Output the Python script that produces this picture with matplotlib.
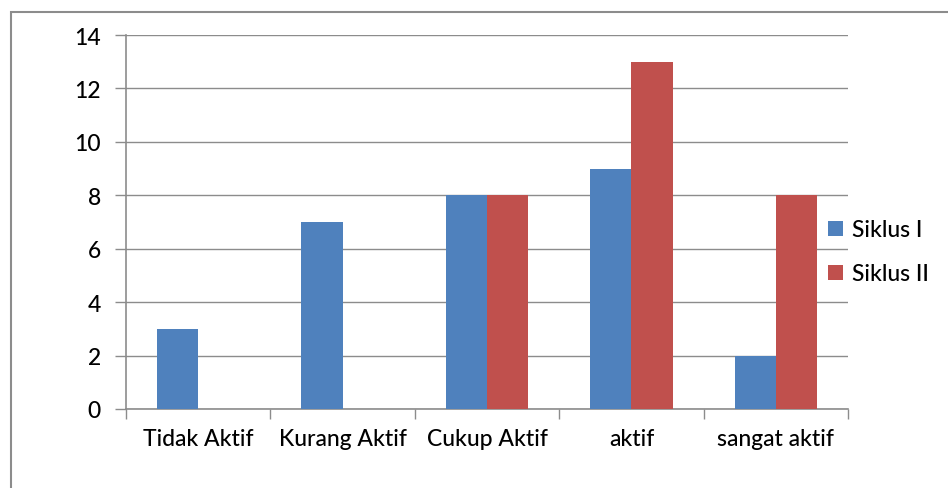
import numpy as np
import matplotlib.pyplot as plt
from matplotlib.patches import Rectangle

categories = ['Tidak Aktif', 'Kurang Aktif', 'Cukup Aktif', 'aktif', 'sangat aktif']
siklus_1 = [3, 7, 8, 9, 2]
siklus_2 = [0, 0, 8, 13, 8]
series_names = ['Siklus I', 'Siklus II']

plt.rcParams['font.family'] = ['Lato', 'DejaVu Sans']
plt.rcParams['font.weight'] = 'medium'

fig = plt.figure(figsize=(9.48, 4.89), dpi=100)
ax = fig.add_axes([126 / 948, 1 - 410 / 489, (848 - 126) / 948, (410 - 36) / 489])

# chart border like the spreadsheet export
fig.patches.append(Rectangle((11 / 948, -0.1), 1.2, 1 - 13 / 489 + 0.1,
                             transform=fig.transFigure, fill=False,
                             edgecolor='#8c8c8c', linewidth=1.5))

x = np.arange(len(categories))
w = 1 / 3.5
ax.bar(x - w / 2, siklus_1, w, color='#4F81BD', label=series_names[0], zorder=3)
ax.bar(x + w / 2, siklus_2, w, color='#C0504D', label=series_names[1], zorder=3)

ax.set_xlim(-0.5, len(categories) - 0.5)
ax.set_ylim(0, 14)
ax.set_yticks(range(0, 15, 2))
ax.yaxis.grid(True, color='#8c8c8c', linewidth=1, zorder=0)

ax.set_xticks(x)
ax.set_xticklabels(categories, fontsize=16.5)
ax.tick_params(axis='x', length=0, pad=14)
ax.set_xticks(np.arange(-0.5, len(categories)), minor=True)
ax.tick_params(axis='x', which='minor', length=7, color='#8c8c8c', width=1)
ax.tick_params(axis='y', length=8, color='#8c8c8c', width=1, labelsize=16.5, pad=10)

for s in ['top', 'right']:
    ax.spines[s].set_visible(False)
for s in ['left', 'bottom']:
    ax.spines[s].set_color('#8c8c8c')
    ax.spines[s].set_linewidth(1.2)

ax.legend(loc='center left', bbox_to_anchor=(0.972, 0.42), frameon=False,
          fontsize=16.5, handlelength=0.65, handleheight=0.65, handletextpad=0.4,
          labelspacing=1.0, borderaxespad=0, borderpad=0)

fig.savefig('out.png', dpi=100)
